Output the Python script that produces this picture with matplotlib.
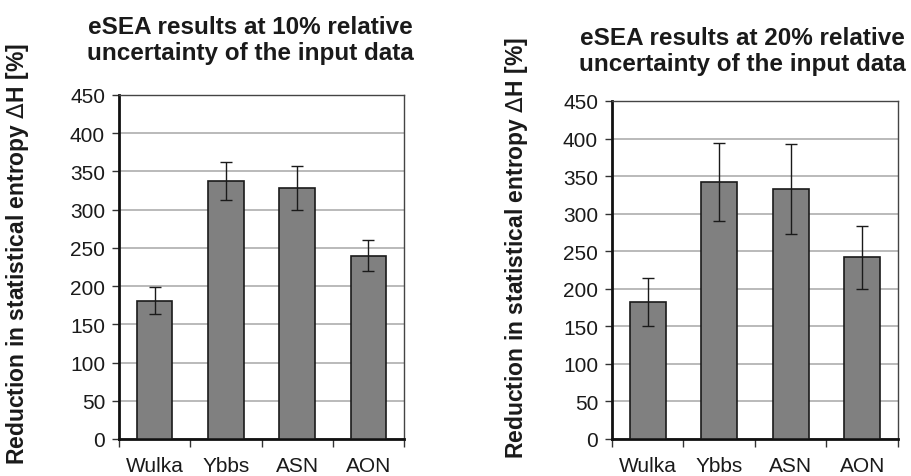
import numpy as np
import matplotlib
matplotlib.use('Agg')
import matplotlib.pyplot as plt
from matplotlib.ticker import MultipleLocator, FixedLocator

plt.rcParams['font.family'] = ['Liberation Sans', 'DejaVu Sans']
plt.rcParams['mathtext.fontset'] = 'dejavusans'

# data
sites = ['Wulka', 'Ybbs', 'ASN', 'AON']
vals_10 = [181, 337, 328, 240]
err_10 = [18, 25, 29, 20]
vals_20 = [183, 342, 333, 242]
err_20 = [32, 52, 60, 42]
titles = ['eSEA results at 10% relative\nuncertainty of the input data',
          'eSEA results at 20% relative\nuncertainty of the input data']
ylab = r'Reduction in statistical entropy $\Delta$H [%]'

fig = plt.figure(figsize=(9.12, 4.77), dpi=100)
W, H = 912, 477


def panel(rect, vals, errs, title, tpos, lpos):
    l, t, r, b = rect
    ax = fig.add_axes([l / W, 1 - b / H, (r - l) / W, (b - t) / H])
    x = np.arange(len(sites))
    ax.bar(x, vals, width=0.5, color='#808080', edgecolor='#1a1a1a', linewidth=1.2,
           zorder=3)
    ax.errorbar(x, vals, yerr=errs, fmt='none', ecolor='#1a1a1a', elinewidth=1.0,
                capsize=4.5, capthick=1.0, zorder=4)
    ax.set_xlim(-0.5, len(sites) - 0.5)
    ax.set_ylim(0, 450)
    ax.yaxis.set_major_locator(MultipleLocator(50))
    ax.grid(axis='y', color='#b4b4b4', linewidth=1.3, zorder=0)
    ax.set_xticks(x)
    ax.set_xticklabels(sites)
    ax.xaxis.set_minor_locator(FixedLocator(np.arange(-0.5, len(sites), 1.0)))
    ax.tick_params(axis='x', which='major', length=0, labelsize=15, pad=12,
                   labelcolor='#1a1a1a')
    ax.tick_params(axis='x', which='minor', length=6, width=1, color='#333333')
    ax.tick_params(axis='y', length=5, width=1, color='#333333', labelsize=15,
                   pad=5, labelcolor='#1a1a1a')
    for s in ['left', 'bottom']:
        ax.spines[s].set_linewidth(2)
        ax.spines[s].set_color('#111111')
    for s in ['top', 'right']:
        ax.spines[s].set_linewidth(1)
        ax.spines[s].set_color('#444444')
    fig.text(tpos[0] / W, 1 - tpos[1] / H, title, ha='center', va='center',
             fontsize=17.5, fontweight='bold', color='#1a1a1a', linespacing=1.2)
    fig.text(lpos[0] / W, 1 - lpos[1] / H, ylab, rotation=90, ha='center',
             va='center', fontsize=16.5, fontweight='bold', color='#1a1a1a')
    return ax


panel((119, 96, 404, 440), vals_10, err_10, titles[0], (250, 40.5), (18, 254))
panel((612, 102, 898, 440), vals_20, err_20, titles[1], (742, 51.5), (517, 248))

fig.savefig('out.png', dpi=100)
